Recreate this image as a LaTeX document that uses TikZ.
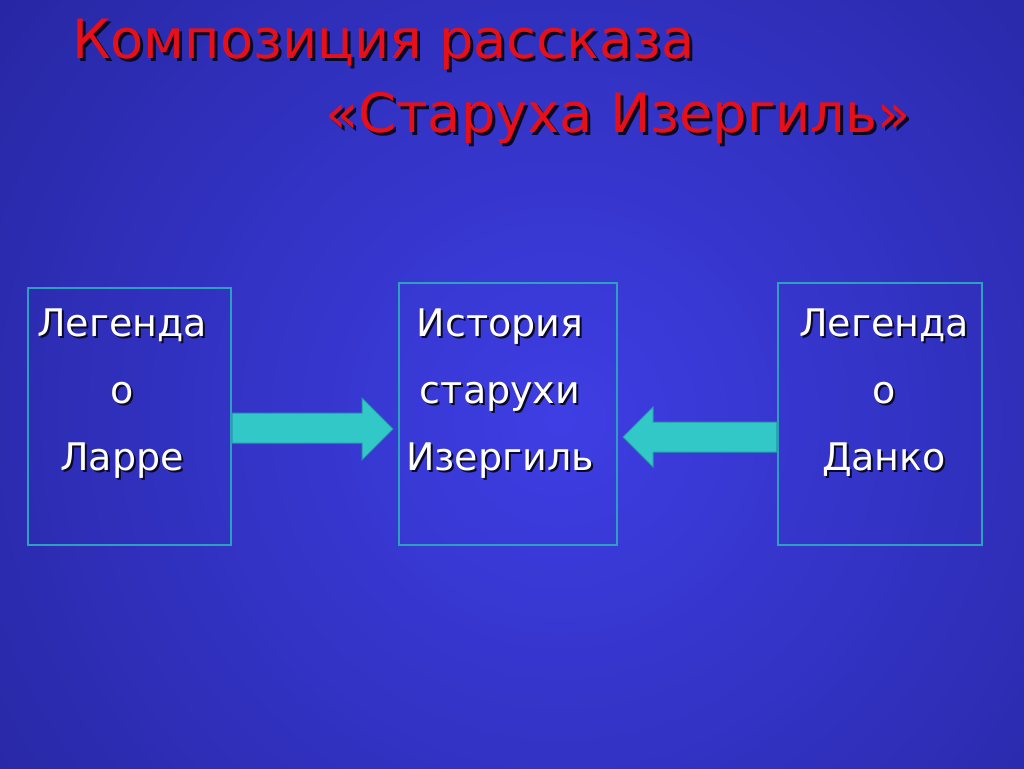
\documentclass[tikz,border=0pt]{standalone}
\usepackage{fontspec}
\setmainfont{DejaVu Sans}
\usetikzlibrary{calc}
\definecolor{bgin}{RGB}{62,62,228}
\definecolor{bgout}{RGB}{16,16,100}
\definecolor{titlered}{RGB}{232,16,24}
\definecolor{boxline}{RGB}{44,160,190}
\definecolor{arrfill}{RGB}{50,200,200}
\definecolor{arrline}{RGB}{40,150,170}
\definecolor{shadowc}{RGB}{10,10,40}
\newcommand\shd[1]{\leavevmode\rlap{\kern2pt\raisebox{-2pt}{\textcolor{shadowc}{#1}}}#1}
\newcommand\tsh[1]{\leavevmode\rlap{\kern3pt\raisebox{-3pt}{\textcolor{shadowc}{#1}}}#1}
\tikzset{
  box/.style={draw=boxline, line width=2.2pt, inner sep=0pt},
  btext/.style={anchor=base, align=center, text=white, inner sep=0pt, font=\fontsize{38}{67}\selectfont},
  ttext/.style={anchor=base west, text=titlered, inner sep=0pt, font=\fontsize{54.2}{60}\selectfont},
  arr/.style={fill=arrfill, draw=arrline, line width=1pt, line join=miter},
}
\begin{document}
\begin{tikzpicture}[x=1pt,y=-1pt]
\useasboundingbox (0,0) rectangle (1024,768);
\begin{scope}
\clip (0,0) rectangle (1024,768);
\shade[inner color=bgin, outer color=bgout] (560,420) circle (1400);
\end{scope}
% title
\node[ttext] (t1) at (72,59) {\tsh{Композиция рассказа}};
\node[ttext] (t2) at (325,132) {\tsh{«Старуха Изергиль»}};
% boxes
\node[box, minimum width=203pt, minimum height=257pt] (L) at (129.5,416.5) {};
\node[box, minimum width=218pt, minimum height=262pt] (M) at (508,414) {};
\node[box, minimum width=204pt, minimum height=262pt] (R) at (880,414) {};
% texts (anchor = baseline of last line)
\node[btext] (lt) at (122,470) {\shd{Легенда}\\\shd{о}\\\shd{Ларре}};
\node[btext] (mt) at (500,470) {\shd{История}\\\shd{старухи}\\\shd{Изергиль}};
\node[btext] (rt) at (884,470) {\shd{Легенда}\\\shd{о}\\\shd{Данко}};
% arrows
\coordinate (rtip) at (393,429);
\draw[arr] ([yshift=3.5pt]L.east) -- (362,413) -- (362,398) -- (rtip) -- (362,460) -- (362,443) -- ([yshift=-26.5pt]L.east) -- cycle;
\coordinate (ltip) at (623,437);
\draw[arr] ([yshift=-8pt]R.west) -- (653,422) -- (653,407) -- (ltip) -- (653,467) -- (653,452) -- ([yshift=-38pt]R.west) -- cycle;
\end{tikzpicture}
\end{document}
